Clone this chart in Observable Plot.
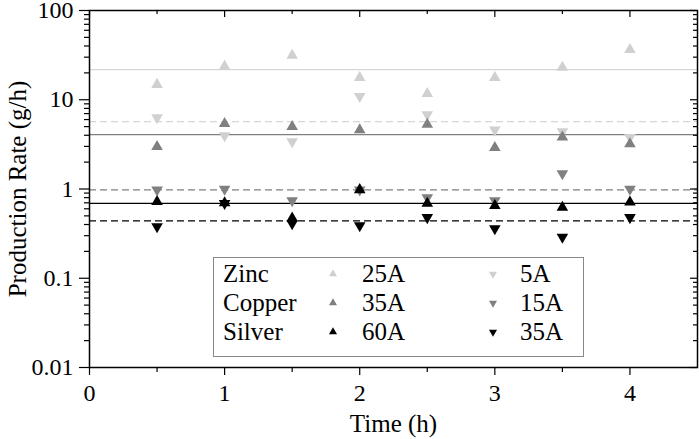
<!DOCTYPE html>
<html><head><meta charset="utf-8">
<script src="https://cdn.jsdelivr.net/npm/d3@7"></script>
<script src="https://cdn.jsdelivr.net/npm/@observablehq/plot@0.6"></script>
<style>
body{margin:0;background:#fff}
#chart{width:699px;height:439px}
#chart svg, #chart svg text{font-family:"Liberation Serif","Times New Roman",serif !important}
</style>
</head><body><div id="chart"></div>
<script>
// ---- data ----
const times = [0.5, 1, 1.5, 2, 2.5, 3, 3.5, 4];
const zinc25A   = [14.8, 23.6, 31.3, 17.7, 11.7, 17.7, 23.0, 36.5];
const zinc5A    = [6.3, 3.97, 3.4, 10.9, 6.8, 4.6, 4.4, 3.8];
const copper35A = [2.98, 5.4, 5.0, 4.6, 5.3, 2.9, 3.8, 3.2];
const copper15A = [0.98, 1.0, 0.74, 0.98, 0.80, 0.74, 1.49, 1.0];
const silver60A = [0.72, 0.70, 0.47, 0.98, 0.69, 0.65, 0.62, 0.71];
const silver35A = [0.38, 0.69, 0.41, 0.39, 0.48, 0.36, 0.29, 0.48];
const meanLines = [21.8, 5.7, 4.07, 0.98, 0.69, 0.44];
const metals = ["Zinc", "Copper", "Silver"];
const highCurrents = ["25A", "35A", "60A"];
const lowCurrents = ["5A", "15A", "35A"];
const yTickValues = [0.01, 0.1, 1, 10, 100];
const yTickLabels = ["0.01", "0.1", "1", "10", "100"];
const xTickValues = [0, 1, 2, 3, 4];
const xTickLabels = ["0", "1", "2", "3", "4"];
const xMinorTicks = [0.5, 1.5, 2.5, 3.5];

// ---- styles ----
const FONT = "'Liberation Serif', 'Times New Roman', serif";
const LIGHT = "#d0d0d0", LIGHTLINE = "#d6d6d6", MID = "#808080", DARK = "#000";
const shades = [LIGHT, MID, DARK];
const lineShades = [LIGHTLINE, LIGHTLINE, MID, MID, DARK, DARK];
const lineDash = [null, "7,4", null, "7,4", null, "7,4"];
const sqrt3 = Math.sqrt(3);
const triangleDown = {draw(context, size) {
  const y = -Math.sqrt(size / (sqrt3 * 3));
  context.moveTo(0, -y * 2);
  context.lineTo(-sqrt3 * y, y);
  context.lineTo(sqrt3 * y, y);
  context.closePath();
}};
const series = [
  {values: zinc25A, fill: LIGHT, symbol: "triangle"},
  {values: zinc5A, fill: LIGHT, symbol: triangleDown},
  {values: copper35A, fill: MID, symbol: "triangle"},
  {values: copper15A, fill: MID, symbol: triangleDown},
  {values: silver60A, fill: DARK, symbol: "triangle"},
  {values: silver35A, fill: DARK, symbol: triangleDown}
];

const W = 699, H = 439, mL = 89, mR = 2, mT = 10, mB = 72;
const pw = W - mL - mR, ph = H - mT - mB;
const minorY = [];
for (const d of [0.01, 0.1, 1, 10]) for (let k = 2; k <= 9; k++) minorY.push(+(d * k).toPrecision(3));

const marks = [];
meanLines.forEach((v, i) => marks.push(Plot.ruleY([v], {stroke: lineShades[i], strokeWidth: 1.3, strokeDasharray: lineDash[i]})));
series.forEach(s => {
  const rows = times.map((t, i) => ({t, v: s.values[i]}));
  marks.push(Plot.dot(rows, {x: "t", y: "v", symbol: s.symbol, fill: s.fill, stroke: "none", r: 4.3}));
});
marks.push(
  Plot.axisY(yTickValues, {tickSize: 10, tickPadding: 6, strokeWidth: 1.2, fontSize: 24, tickFormat: d => yTickLabels[yTickValues.indexOf(d)], label: null}),
  Plot.axisY(minorY, {tickSize: 5, strokeWidth: 1.2, tickFormat: () => "", label: null}),
  Plot.tickY(yTickValues, {y: d => d, insetLeft: pw - 7, stroke: "#000", strokeWidth: 1.2}),
  Plot.tickY(minorY, {y: d => d, insetLeft: pw - 4, stroke: "#000", strokeWidth: 1.2}),
  Plot.axisX(xTickValues, {tickSize: 8, tickPadding: 8, strokeWidth: 1.2, fontSize: 24, tickFormat: d => xTickLabels[xTickValues.indexOf(d)], label: null}),
  Plot.axisX(xMinorTicks, {tickSize: 5, strokeWidth: 1.2, tickFormat: () => "", label: null}),
  Plot.tickX(xTickValues, {x: d => d, insetBottom: ph - 7, stroke: "#000", strokeWidth: 1.2}),
  Plot.tickX(xMinorTicks, {x: d => d, insetBottom: ph - 4, stroke: "#000", strokeWidth: 1.2}),
  Plot.frame({stroke: "#000", strokeWidth: 1.5}),
  Plot.text(["Production Rate (g/h)"], {frameAnchor: "left", textAnchor: "middle", lineAnchor: "middle", rotate: -90, dx: -72, fontSize: 25}),
  Plot.text(["Time (h)"], {frameAnchor: "bottom", textAnchor: "middle", lineAnchor: "middle", dy: 56, fontSize: 25})
);

const svg = Plot.plot({
  width: W, height: H, marginLeft: mL, marginRight: mR, marginTop: mT, marginBottom: mB,
  style: {fontFamily: FONT, fontSize: "24px", color: "#000", background: "#fff"},
  x: {domain: [0, 4.5]},
  y: {type: "log", domain: [0.01, 100]},
  marks
});
svg.setAttribute("font-family", FONT);
document.getElementById("chart").appendChild(svg);

// ---- legend ----
const g = d3.select(svg).append("g").attr("font-family", FONT).attr("font-size", 25).attr("text-anchor", "start");
g.append("rect").attr("x", 213.5).attr("y", 257.5).attr("width", 370).attr("height", 99)
  .attr("fill", "#fff").attr("stroke", "#888").attr("stroke-width", 1);
const rowY = [274, 303, 332];
const upPath = d3.symbol(d3.symbolTriangle, 28)();
const downPath = d3.symbol(triangleDown, 28)();
metals.forEach((m, i) => {
  g.append("text").attr("x", 223).attr("y", rowY[i]).attr("dy", "0.32em").text(m);
  g.append("path").attr("d", upPath).attr("transform", `translate(333,${rowY[i]})`).attr("fill", shades[i]);
  g.append("text").attr("x", 362).attr("y", rowY[i]).attr("dy", "0.32em").text(highCurrents[i]);
  g.append("path").attr("d", downPath).attr("transform", `translate(493,${rowY[i]})`).attr("fill", shades[i]);
  g.append("text").attr("x", 520).attr("y", rowY[i]).attr("dy", "0.32em").text(lowCurrents[i]);
});
</script>
</body></html>
